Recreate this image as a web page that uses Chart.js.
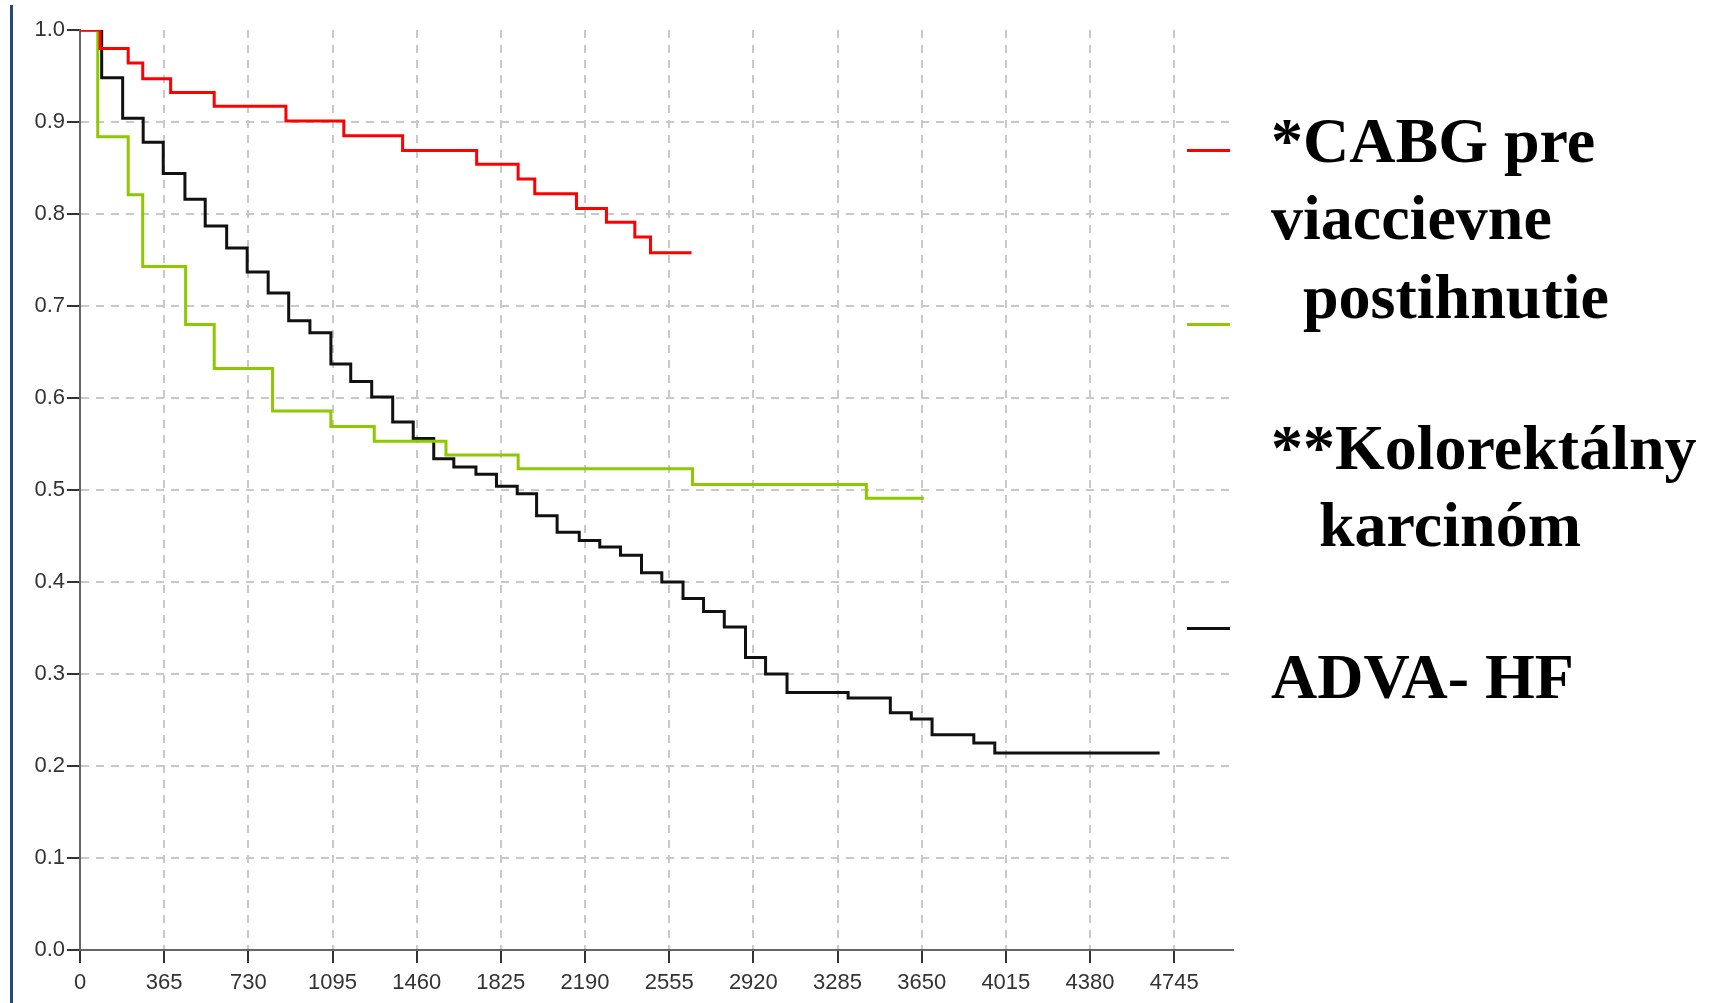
<!DOCTYPE html>
<html>
<head>
<meta charset="utf-8">
<script src="https://cdn.jsdelivr.net/npm/chart.js@4.4.1/dist/chart.umd.min.js"></script>
<style>
  html, body { margin:0; padding:0; background:#fff; }
  #wrap { position:relative; width:1712px; height:1003px; overflow:hidden; }
  #edge { position:absolute; left:10px; top:5px; bottom:0; width:0; border-left:3px solid #24497a; }
  .key { position:absolute; left:1187px; width:43px; height:3px; }
  .lbl { position:absolute; left:1271px; font-family:"Liberation Serif", "Times New Roman", serif; font-weight:bold; font-size:64px; line-height:64px; white-space:pre; color:#000; }
</style>
</head>
<body>
<div id="wrap">
  <canvas id="km" width="1712" height="1003"></canvas>
  <div id="edge"></div>
  <div class="key" id="key0" style="top:149px"></div>
  <div class="key" id="key1" style="top:323px"></div>
  <div class="key" id="key2" style="top:627px"></div>
  <div class="lbl" style="top:109px">*CABG pre</div>
  <div class="lbl" style="top:186px">viaccievne</div>
  <div class="lbl" style="top:265px">  postihnutie</div>
  <div class="lbl" style="top:416px">**Kolorektálny</div>
  <div class="lbl" style="top:493px">   karcinóm</div>
  <div class="lbl" style="top:645px">ADVA- HF</div>
</div>
<script>
// osi
const xTicks = [0, 365, 730, 1095, 1460, 1825, 2190, 2555, 2920, 3285, 3650, 4015, 4380, 4745];
const yTicks = [0, 0.1, 0.2, 0.3, 0.4, 0.5, 0.6, 0.7, 0.8, 0.9, 1.0];

// Kaplan-Meier krivky (dni, prezivanie)
const cabgDays = [0, 87, 209, 272, 393, 582, 893, 1144, 1399, 1720, 1900, 1972, 2153, 2283, 2406, 2474, 2652];
const cabgSurv = [1, 0.980, 0.964, 0.947, 0.932, 0.917, 0.901, 0.885, 0.869, 0.854, 0.838, 0.822, 0.806, 0.791, 0.775, 0.758, 0.758];

const crcDays = [0, 77, 209, 272, 458, 582, 835, 1088, 1276, 1587, 1900, 2656, 3410, 3659];
const crcSurv = [1, 0.884, 0.821, 0.743, 0.680, 0.632, 0.586, 0.569, 0.553, 0.538, 0.523, 0.506, 0.491, 0.491];

const hfDays = [0, 94, 185, 274, 361, 455, 543, 636, 725, 816, 905, 997, 1088, 1174, 1265, 1356, 1445, 1534, 1621, 1717,
  1806, 1896, 1980, 2069, 2165, 2254, 2344, 2435, 2523, 2615, 2704, 2794, 2886, 2973, 3066, 3331, 3514, 3605, 3695, 3876, 3967, 4682];
const hfSurv = [1, 0.948, 0.904, 0.878, 0.844, 0.816, 0.787, 0.763, 0.737, 0.714, 0.684, 0.671, 0.637, 0.618, 0.601, 0.574, 0.556, 0.534, 0.525, 0.517,
  0.504, 0.496, 0.472, 0.454, 0.445, 0.438, 0.429, 0.410, 0.400, 0.382, 0.368, 0.351, 0.318, 0.300, 0.280, 0.274, 0.258, 0.251, 0.234, 0.225, 0.214, 0.214];

const labels = ['*CABG pre viaccievne postihnutie', '**Kolorektálny karcinóm', 'ADVA- HF'];
const colors = ['#ff0000', '#8dc800', '#111111'];

const pts = (d, s) => d.map((x, i) => ({ x: x, y: s[i] }));
const series = [pts(cabgDays, cabgSurv), pts(crcDays, crcSurv), pts(hfDays, hfSurv)];

colors.forEach((c, i) => { document.getElementById('key' + i).style.background = c; });

const tickFont = { family: 'Liberation Sans', size: 22 };
const gridCol = '#c9c9c9';

new Chart(document.getElementById('km'), {
    type: 'line',
    data: {
        datasets: series.map((data, i) => ({
            label: labels[i],
            data: data,
            borderColor: colors[i],
            borderWidth: 3,
            stepped: 'before',
            pointRadius: 0,
            fill: false
        }))
    },
    options: {
        responsive: false,
        animation: false,
        layout: { padding: { left: 0, top: 30, right: 479, bottom: 0 } },
        plugins: { legend: { display: false }, tooltip: { enabled: false } },
        scales: {
            x: {
                type: 'linear', min: 0, max: 5000,
                afterBuildTicks: s => { s.ticks = xTicks.map(v => ({ value: v })); },
                afterFit: s => { s.height = 53; },
                ticks: { color: '#333', font: tickFont, padding: 7, maxRotation: 0, autoSkip: false, callback: v => String(v) },
                grid: {
                    color: c => (c.tick && c.tick.value === 0) ? 'rgba(0,0,0,0)' : gridCol,
                    lineWidth: 2, tickLength: 13, tickColor: '#333', tickWidth: 2
                },
                border: { color: '#666', width: 2, dash: [8, 7] }
            },
            y: {
                type: 'linear', min: 0, max: 1,
                afterBuildTicks: s => { s.ticks = yTicks.map(v => ({ value: v })); },
                afterFit: s => { s.width = 80; },
                ticks: { color: '#333', font: tickFont, padding: 2, callback: v => v.toFixed(1) },
                grid: {
                    color: c => (c.tick && (c.tick.value === 0 || c.tick.value === 1)) ? 'rgba(0,0,0,0)' : gridCol,
                    lineWidth: 2, tickLength: 13, tickColor: '#333', tickWidth: 2
                },
                border: { color: '#666', width: 2, dash: [8, 7] }
            }
        }
    }
});
</script>
</body>
</html>
